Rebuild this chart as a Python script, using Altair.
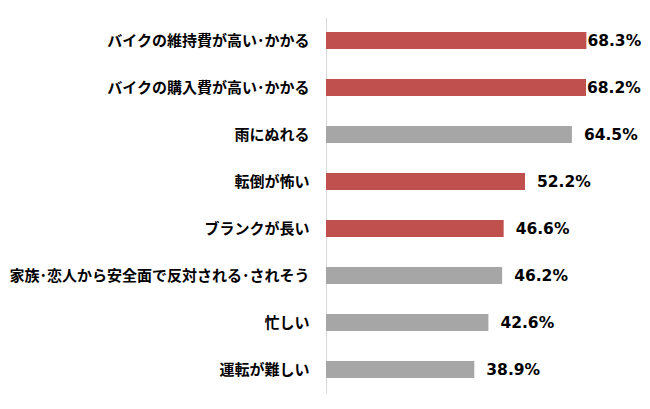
import altair as alt
import pandas as pd

categories = [
    "バイクの維持費が高い･かかる",
    "バイクの購入費が高い･かかる",
    "雨にぬれる",
    "転倒が怖い",
    "ブランクが長い",
    "家族･恋人から安全面で反対される･されそう",
    "忙しい",
    "運転が難しい",
]
values = [68.3, 68.2, 64.5, 52.2, 46.6, 46.2, 42.6, 38.9]
highlight = ["red", "red", "gray", "red", "red", "gray", "gray", "gray"]

df = pd.DataFrame({
    "cat": categories,
    "value": values,
    "group": highlight,
    "rank": list(range(len(categories))),
})
df["label"] = df["value"].map(lambda v: f"{v:.1f}%")

y = alt.Y("cat:N", sort=categories, title=None,
          axis=alt.Axis(domain=True, domainColor="#d9d9d9", domainWidth=1,
                        ticks=False, labelPadding=17, labelFontSize=15,
                        labelFont="Noto Sans CJK JP", labelFontWeight="bold",
                        labelColor="#000000", grid=False, labelLimit=400))
x = alt.X("value:Q", scale=alt.Scale(domain=[0, 80]), axis=None)

base = alt.Chart(df)

bars = base.mark_bar(size=17).encode(
    y=y, x=x,
    color=alt.Color("group:N", scale=alt.Scale(domain=["red", "gray"],
                                               range=["#c0504d", "#a6a6a6"]),
                    legend=None),
)

text_style = dict(align="left", baseline="middle", font="DejaVu Sans",
                  fontWeight="bold", fontSize=15.5, color="#000000")

labels_near = base.transform_filter("datum.rank < 2").mark_text(dx=1, **text_style).encode(
    y=y, x=x, text="label:N")
labels_far = base.transform_filter("datum.rank >= 2").mark_text(dx=12, **text_style).encode(
    y=y, x=x, text="label:N")

chart = alt.layer(bars, labels_near, labels_far).properties(
    width=305, height=376,
    autosize=alt.AutoSizeParams(type="none"),
    padding={"left": 326, "top": 17, "right": 19, "bottom": 16},
    background="#ffffff",
).configure_view(stroke=None)

chart.save("out.html", embed_options={"renderer": "svg", "actions": False})
